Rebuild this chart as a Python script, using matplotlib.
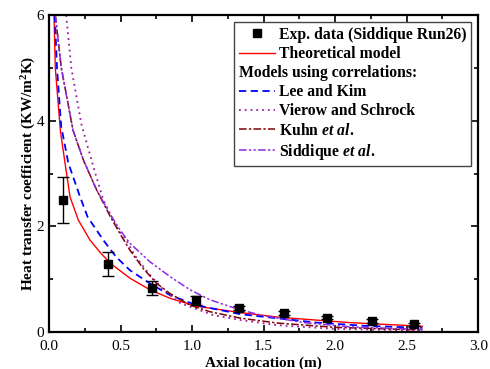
import matplotlib
matplotlib.use('Agg')
import matplotlib.pyplot as plt
from matplotlib.ticker import MultipleLocator, FormatStrFormatter

# experimental data (Siddique Run26)
exp_x = [0.10, 0.41, 0.72, 1.03, 1.33, 1.64, 1.94, 2.26, 2.55]
exp_y = [2.50, 1.29, 0.83, 0.60, 0.45, 0.36, 0.27, 0.21, 0.15]
exp_err = [0.43, 0.22, 0.13, 0.08, 0.04, 0.03, 0.03, 0.03, 0.03]

# theoretical model
theo_x = [0.035, 0.044, 0.08, 0.112, 0.147, 0.205, 0.287, 0.36, 0.43, 0.566, 0.706, 0.846, 1.03, 1.336, 1.61, 2.1, 2.61]
theo_y = [6.0, 5.0, 3.8, 3.2, 2.56, 2.12, 1.74, 1.50, 1.30, 1.02, 0.80, 0.64, 0.49, 0.37, 0.28, 0.18, 0.11]

# Lee and Kim
lee_x = [0.04, 0.056, 0.085, 0.135, 0.217, 0.27, 0.38, 0.47, 0.566, 0.706, 0.846, 1.03, 1.336, 1.5, 1.87, 2.2, 2.61]
lee_y = [6.0, 5.0, 3.9, 3.2, 2.56, 2.18, 1.74, 1.42, 1.17, 0.92, 0.70, 0.51, 0.34, 0.29, 0.18, 0.12, 0.08]

# Vierow and Schrock
vie_x = [0.12, 0.156, 0.226, 0.31, 0.38, 0.47, 0.54, 0.6, 0.7, 0.8, 0.916, 1.15, 1.336, 1.6, 2.0, 2.61]
vie_y = [6.0, 5.0, 3.94, 3.13, 2.5, 2.0, 1.74, 1.45, 1.1, 0.8, 0.55, 0.32, 0.23, 0.13, 0.06, 0.03]

# Kuhn et al.
kuhn_x = [0.044, 0.086, 0.168, 0.24, 0.333, 0.43, 0.51, 0.566, 0.66, 0.753, 0.846, 0.986, 1.126, 1.336, 1.6, 2.0, 2.61]
kuhn_y = [6.0, 5.0, 3.82, 3.26, 2.69, 2.18, 1.80, 1.55, 1.2, 0.92, 0.73, 0.51, 0.385, 0.265, 0.17, 0.09, 0.04]

# Siddique et al.
sid_x = [0.044, 0.086, 0.168, 0.24, 0.333, 0.43, 0.5, 0.566, 0.706, 0.846, 0.986, 1.126, 1.336, 1.5, 1.78, 2.1, 2.61]
sid_y = [6.0, 5.0, 3.82, 3.26, 2.69, 2.22, 1.92, 1.68, 1.33, 1.05, 0.80, 0.61, 0.42, 0.31, 0.18, 0.10, 0.05]

plt.rcParams['font.family'] = 'Liberation Serif'
plt.rcParams['mathtext.fontset'] = 'custom'
plt.rcParams['mathtext.rm'] = 'Liberation Serif:bold'
plt.rcParams['mathtext.bf'] = 'Liberation Serif:bold'
plt.rcParams['mathtext.it'] = 'Liberation Serif:italic:bold'

fig = plt.figure(figsize=(4.9, 3.69), dpi=100)
ax = fig.add_axes([0.1, 0.1, 0.876, 0.859])

h_exp = ax.errorbar(exp_x, exp_y, yerr=exp_err, fmt='s', color='black', markersize=5.5,
                    ecolor='black', elinewidth=1, capsize=4, capthick=1, zorder=5)
h_theo, = ax.plot(theo_x, theo_y, color='#ff0000', lw=1)
h_hdr, = ax.plot([], [], ' ')
h_lee, = ax.plot(lee_x, lee_y, color='#0000ff', lw=1.3, ls=(0, (4, 2.5)))
h_vie, = ax.plot(vie_x, vie_y, color='#9a1f9a', lw=1.3, ls=(0, (1, 2.2)))
h_kuhn, = ax.plot(kuhn_x, kuhn_y, color='#800000', lw=1.1, ls=(0, (5, 1.5, 1.5, 1.5)))
h_sid, = ax.plot(sid_x, sid_y, color='#8a2be2', lw=1.1, ls=(0, (5, 1.5, 1.5, 1.5, 1.5, 1.5)))

ax.set_xlim(0, 3.0)
ax.set_ylim(0, 6)
ax.xaxis.set_major_locator(MultipleLocator(0.5))
ax.xaxis.set_minor_locator(MultipleLocator(0.25))
ax.yaxis.set_major_locator(MultipleLocator(2))
ax.yaxis.set_minor_locator(MultipleLocator(1))
ax.xaxis.set_major_formatter(FormatStrFormatter('%.1f'))
ax.yaxis.set_major_formatter(FormatStrFormatter('%d'))
ax.tick_params(which='both', direction='in', top=True, right=True, width=1.2, labelsize=11)
ax.tick_params(which='major', length=5)
ax.tick_params(which='minor', length=3)
ax.tick_params(axis='x', pad=6)
for s in ax.spines.values():
    s.set_linewidth(1.6)

ax.set_xlabel('Axial location (m)', fontsize=11, fontweight='bold', labelpad=2.5)
ax.set_ylabel(r'Heat transfer coefficient (KW/m$^\mathbf{2}$K)', fontsize=11,
              fontweight='bold', labelpad=-1)

handles = [h_exp[0], h_theo, h_hdr, h_lee, h_vie, h_kuhn, h_sid]
labels = ['Exp. data (Siddique Run26)', 'Theoretical model', 'Models using correlations:',
          'Lee and Kim', 'Vierow and Schrock', r'Kuhn $et\ al.$', r'Siddique $et\ al.$']
fs = 11.3
leg = ax.legend(handles, labels, loc='upper right', prop={'weight': 'bold', 'size': fs},
                fancybox=False, edgecolor='#444444', framealpha=1,
                handlelength=2.3, handletextpad=0.25, labelspacing=0.2,
                borderpad=0.3, borderaxespad=0.45)
leg.get_frame().set_linewidth(1.0)
# header line starts at the handle column
hdr = leg.get_texts()[2]
hdr.set_x(-(2.3 + 0.25) * fs * 100 / 72)

fig.savefig('out.png', dpi=100)
